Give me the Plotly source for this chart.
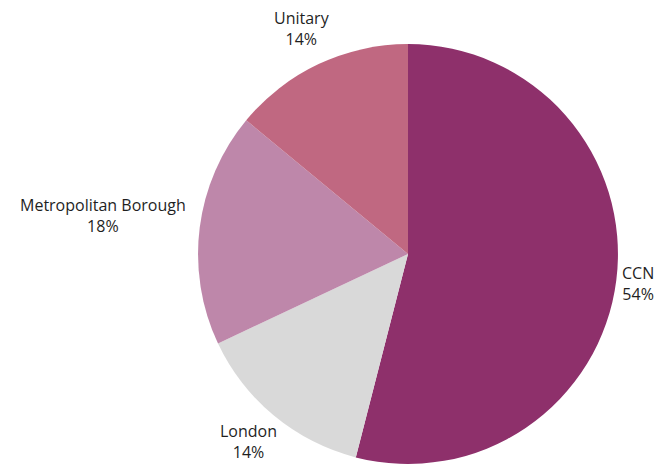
import math
import plotly.graph_objects as go

categories = ["CCN", "London", "Metropolitan Borough", "Unitary"]
values = [54, 14, 18, 14]
colors = ["#8E306B", "#D9D9D9", "#BE87AA", "#C06881"]

W, H = 664, 464
dom_x = [0.2982, 0.9307]
dom_y = [0.0, 0.905]
font_size = 16
label_gap = 6

fig = go.Figure(go.Pie(
    labels=categories,
    values=values,
    sort=False,
    direction="clockwise",
    rotation=0,
    marker=dict(colors=colors, line=dict(width=0)),
    textinfo="none",
    domain=dict(x=dom_x, y=dom_y),
    showlegend=False,
    hoverinfo="label+percent",
))

# pie geometry (pixels) derived from the domain
cxp = (dom_x[0] + dom_x[1]) / 2
cyp = (dom_y[0] + dom_y[1]) / 2
r = min((dom_x[1] - dom_x[0]) * W, (dom_y[1] - dom_y[0]) * H) / 2

total = sum(values)
cum = 0
annotations = []
for lab, v in zip(categories, values):
    mid = (cum + v / 2) / total * 2 * math.pi
    cum += v
    pct = f"{round(100 * v / total)}%"
    vx, vy = math.sin(mid), math.cos(mid)  # vy: up positive
    w = max(len(lab), len(pct)) * 0.56 * font_size
    h = 2 * 1.35 * font_size
    ext = abs(vx) * w / 2 + abs(vy) * h / 2
    dist = r + label_gap + ext
    xs, ys = vx * dist, vy * dist
    # keep the label inside the canvas
    center_from_bottom = cyp * H + ys
    if center_from_bottom < h / 2 + 1:
        ys += (h / 2 + 1) - center_from_bottom
    annotations.append(dict(
        x=cxp, y=cyp, xref="paper", yref="paper",
        xshift=xs, yshift=ys,
        xanchor="center", yanchor="middle",
        text=f"{lab}<br>{pct}", showarrow=False, align="center",
        font=dict(family="Open Sans", size=font_size, color="#1F1F1F"),
    ))

fig.update_layout(
    width=W,
    height=H,
    margin=dict(l=0, r=0, t=0, b=0),
    paper_bgcolor="white",
    plot_bgcolor="white",
    annotations=annotations,
)

fig.write_html("out.html")
